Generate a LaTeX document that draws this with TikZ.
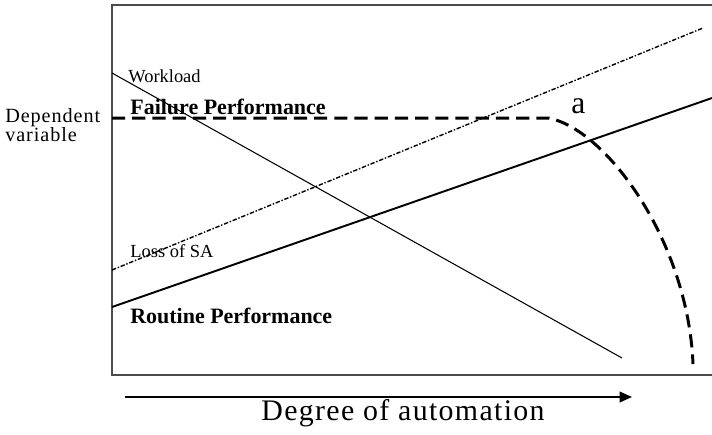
\documentclass[tikz,border=0pt]{standalone}
\usepackage{fontspec}
\setmainfont{Liberation Serif}
\newfontfamily\spacedfont[LetterSpace=4.5]{Liberation Serif}
\usepackage{tikz}
\usetikzlibrary{arrows.meta, positioning}

\begin{document}
\begin{tikzpicture}[x=0.02cm, y=-0.02cm,
    lbl/.style={anchor=base west, inner sep=0pt},
    failline/.style={line width=1.7pt, dash pattern=on 7.5pt off 4pt},
    saline/.style={line width=0.8pt, dash pattern=on 2.5pt off 1pt on 0.8pt off 1pt}]
    \useasboundingbox (0,0) rectangle (712,434);

    % Frame
    \draw[black!70, line width=0.9pt] (112,5) rectangle (730,375);

    % Workload
    \coordinate (wl0) at (112,73);
    \coordinate (wl1) at (622,358);
    \draw[line width=0.6pt] (wl0) -- (wl1);

    % Loss of SA
    \coordinate (sa0) at (112,270);
    \coordinate (sa1) at (703,28);
    \draw[saline] (sa0) -- (sa1);

    % Routine performance
    \coordinate (rp0) at (112,307);
    \coordinate (rp1) at (712,98);
    \draw[line width=1.1pt] (rp0) -- (rp1);

    % Failure performance
    \coordinate (fp0) at (112,118);
    \coordinate (fpa) at (548,118);
    \coordinate (fp1) at (693,364);
    \draw[failline] (fp0) -- (fpa) .. controls (605,128) and (688,240) .. (fp1);

    % Labels
    \node[lbl] (dep) at (5,122) {\fontsize{11.5}{13}\spacedfont Dependent};
    \node[lbl] (var) at (5,141) {\fontsize{11.5}{13}\spacedfont variable};
    \node[lbl] (work) at (128,82) {\fontsize{10.5}{12}\selectfont Workload};
    \node[lbl] (fail) at (130,114) {\fontsize{12.5}{14}\selectfont\bfseries Failure Performance};
    \node[lbl] (loss) at (130,257) {\fontsize{10.5}{12}\selectfont Loss of SA};
    \node[lbl] (rout) at (130,323) {\fontsize{12.5}{14}\selectfont\bfseries Routine Performance};
    \node[lbl] (pa) at (571,113) {\fontsize{18}{20}\selectfont a};

    % Axis
    \coordinate (ax0) at (125,397);
    \coordinate (ax1) at (632,397);
    \draw[-{Triangle[length=7pt, width=6pt]}, line width=1.1pt] (ax0) -- (ax1);
    \node[anchor=base, inner sep=0pt] (deg) at (403,420) {\fontsize{17}{20}\spacedfont Degree of automation};
\end{tikzpicture}
\end{document}
